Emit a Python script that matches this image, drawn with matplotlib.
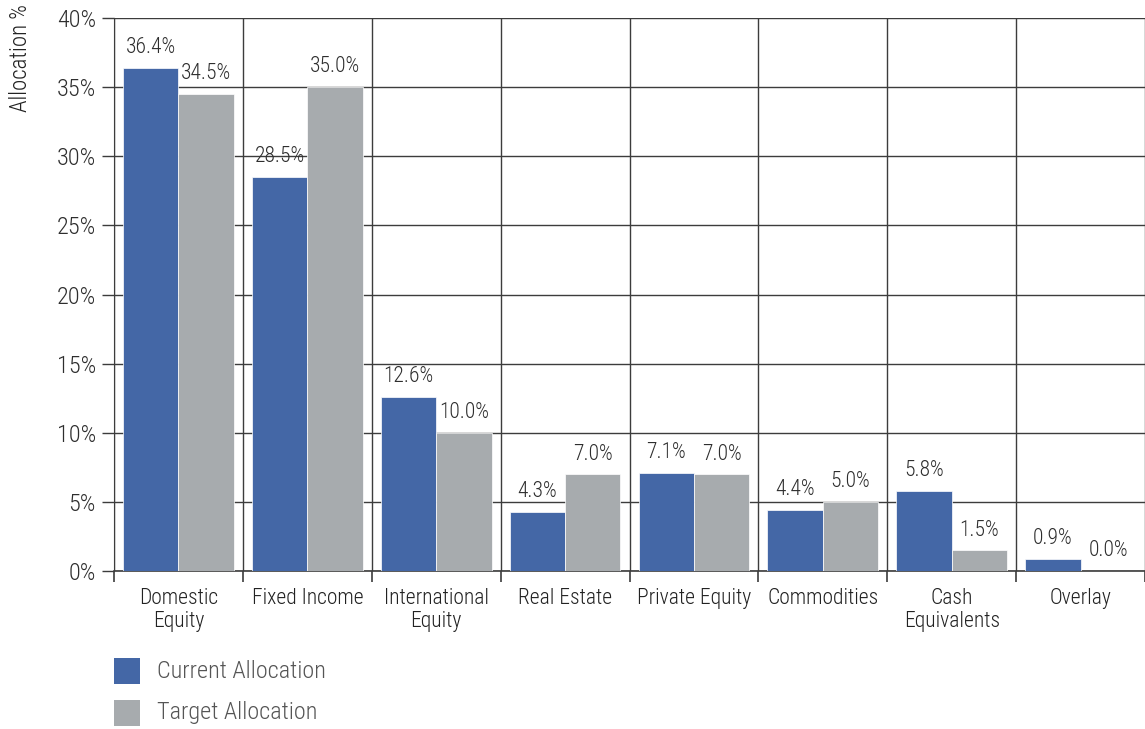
import matplotlib
matplotlib.use("Agg")
import matplotlib.pyplot as plt
import numpy as np
from matplotlib.patches import Rectangle

plt.rcParams['font.family'] = ['Roboto Condensed', 'Archivo Narrow', 'DejaVu Sans']

categories = ["Domestic\nEquity", "Fixed Income", "International\nEquity", "Real Estate",
              "Private Equity", "Commodities", "Cash\nEquivalents", "Overlay"]
current = [36.4, 28.5, 12.6, 4.3, 7.1, 4.4, 5.8, 0.9]
target = [34.5, 35.0, 10.0, 7.0, 7.0, 5.0, 1.5, 0.0]
y_ticks = [0, 5, 10, 15, 20, 25, 30, 35, 40]
series_names = ["Current Allocation", "Target Allocation"]

blue = "#4467a6"
gray = "#a7abae"
grid = "#3c3c3c"
text_col = "#2e2e2e"

fig = plt.figure(figsize=(11.45, 7.29), dpi=100)
ax = fig.add_axes([114/1145, 1 - 571/729, 1 - 114/1145, (571 - 18)/729])

x = np.arange(len(categories)) + 0.5
w = 0.43
b1 = ax.bar(x - w/2, current, w, color=blue, edgecolor="white", linewidth=0.5, zorder=3)
b2 = ax.bar(x + w/2, target, w, color=gray, edgecolor="white", linewidth=0.5, zorder=3)

for bars, vals in ((b1, current), (b2, target)):
    for r, v in zip(bars, vals):
        ax.annotate(f"{v:.1f}%", (r.get_x() + r.get_width()/2, v),
                    xytext=(0, 7), textcoords="offset points",
                    ha="center", va="bottom", fontsize=15.5, fontweight="light",
                    color=text_col, zorder=4)

ax.set_xlim(0, len(categories))
ax.set_ylim(0, 40)
ax.set_yticks(y_ticks)
ax.set_yticklabels([f"{t}%" for t in y_ticks], fontsize=17.5, fontweight="light", color=text_col)

# category boundaries carry the tick marks and vertical grid lines
ax.set_xticks(np.arange(len(categories) + 1))
ax.set_xticklabels([])
ax.set_xticks(x, minor=True)
ax.set_xticklabels(categories, minor=True, fontsize=15.5, fontweight="light",
                   color="#222222", linespacing=1.15)
ax.tick_params(axis="x", which="minor", length=0, pad=12)
ax.tick_params(axis="x", which="major", length=8, width=1.2, color=grid)
ax.tick_params(axis="y", length=9, width=1, color=grid, pad=4)

ax.grid(axis="y", color=grid, linewidth=1, zorder=0)
ax.grid(axis="x", which="major", color=grid, linewidth=1, zorder=0)
for s in ("top", "right"):
    ax.spines[s].set_visible(False)
ax.spines["left"].set_color(grid)
ax.spines["bottom"].set_color(grid)
ax.spines["bottom"].set_linewidth(1.2)

fig.text(21/1145, 1 - 4/729, "Allocation %", rotation=90, ha="center", va="top",
         fontsize=16.5, fontweight="light", color="#222222")

# legend squares
for i, (name, col) in enumerate(zip(series_names, (blue, gray))):
    yb = 1 - (684 + i*42)/729
    fig.patches.append(Rectangle((114/1145, yb), 26/1145, 26/729, transform=fig.transFigure,
                                 facecolor=col, edgecolor="none"))
    fig.text(157/1145, yb + 13/729, name, ha="left", va="center", fontsize=17.5,
             fontweight="light", color="#555555")

fig.savefig("out.png", dpi=100)
